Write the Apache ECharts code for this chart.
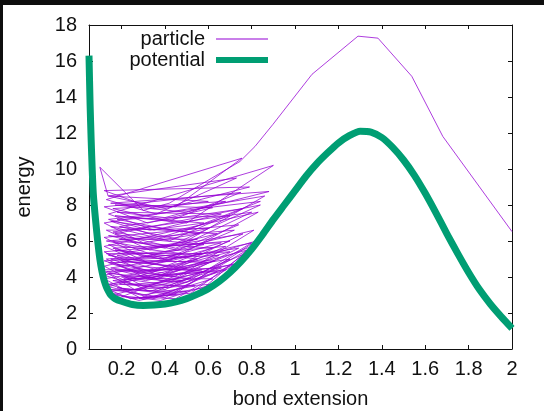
<!DOCTYPE html>
<html><head><meta charset="utf-8">
<script src="https://cdn.jsdelivr.net/npm/echarts@6/dist/echarts.min.js"></script>
<style>
html,body{margin:0;padding:0;background:#0e0e0e;width:544px;height:411px;overflow:hidden}
#c{position:absolute;left:3px;top:5px;width:541px;height:406px;background:#fff}
</style></head><body><div id="c"></div>
<script>
// ---- data ----
const xTicks = [0.2, 0.4, 0.6, 0.8, 1, 1.2, 1.4, 1.6, 1.8, 2];
const yTicks = [0, 2, 4, 6, 8, 10, 12, 14, 16, 18];
const seriesNames = ['particle', 'potential'];

const potentialX = [0.05,0.055,0.06,0.065,0.07,0.08,0.09,0.10,0.11,0.12,0.13,0.14,0.15,0.17,0.20,0.25,0.30,0.35,0.40,0.45,0.50,0.55,0.60,0.65,0.70,0.75,0.80,0.85,0.90,0.95,1.00,1.05,1.10,1.15,1.20,1.25,1.30,1.35,1.40,1.45,1.50,1.55,1.60,1.65,1.70,1.75,1.80,1.85,1.90,1.95,2.00];
const potentialY = [16.3,13.6,11.6,9.9,8.6,7.2,6.0,5.0,4.3,3.8,3.45,3.2,3.0,2.8,2.65,2.47,2.42,2.44,2.5,2.62,2.8,3.05,3.35,3.75,4.25,4.85,5.55,6.35,7.2,8.0,8.8,9.6,10.3,10.9,11.45,11.85,12.1,12.05,11.75,11.2,10.5,9.65,8.65,7.55,6.4,5.3,4.25,3.3,2.5,1.8,1.15];

// particle trajectory (one polyline)
const particleX = [
0.24,0.52,0.77, 0.28,0.58,0.80, 0.20,0.45,0.74, 0.16,0.38,0.62, 0.13,0.28,0.50, 0.15,0.40,0.78,
0.12,0.24,0.45, 0.18,0.45,0.82, 0.13,0.35,0.72, 0.14,0.30,0.54, 0.19,0.42,0.68, 0.16,0.40,0.70,
0.12,0.30,0.62, 0.21,0.44,0.64, 0.20,0.50,0.80, 0.12,0.25,0.48, 0.14,0.33,0.66, 0.13,0.31,0.57,
0.11,0.26,0.52, 0.17,0.42,0.74, 0.15,0.46,0.81, 0.12,0.30,0.58, 0.18,0.40,0.63, 0.14,0.36,0.65,
0.12,0.28,0.50, 0.20,0.45,0.70, 0.13,0.32,0.60, 0.15,0.38,0.68, 0.18,0.44,0.76, 0.14,0.33,0.58,
0.13,0.36,0.70, 0.12,0.30,0.55, 0.17,0.38,0.66, 0.16,0.42,0.83, 0.12,0.26,0.48, 0.14,0.34,0.62,
0.16,0.40,0.72, 0.13,0.32,0.55, 0.19,0.46,0.74, 0.12,0.30,0.58, 0.14,0.40,0.84, 0.17,0.45,0.80,
0.16,0.36,0.60, 0.13,0.33,0.64, 0.15,0.42,0.76, 0.19,0.50,0.86, 0.12,0.30,0.56, 0.15,0.38,0.70,
0.18,0.48,0.84, 0.14,0.33,0.58, 0.17,0.50,0.90, 0.14,0.35,0.66, 0.18,0.40,0.68, 0.16,0.42,0.75,
0.12,0.32,0.62, 0.17,0.50,0.88, 0.15,0.45,0.755, 0.13,0.36,0.73, 0.14,0.40,0.79, 0.12,0.35,0.60,
0.138,0.10,0.30, 0.42,0.746,0.815,0.898,1.078,1.29,1.382,1.538,1.681,2.0];
const particleY = [
2.8,3.1,5.3, 2.8,3.4,5.7, 2.9,2.8,4.8, 3.0,2.7,3.6, 3.2,2.7,3.2, 3.3,2.85,5.5,
3.4,2.8,3.0, 3.4,3.1,6.0, 3.5,2.8,4.7, 3.6,3.0,3.5, 3.6,3.4,4.4, 3.8,3.3,5.0,
3.9,2.75,3.9, 3.9,3.5,4.3, 4.0,3.7,5.9, 4.1,3.6,3.8, 4.2,3.2,4.5, 4.3,3.8,4.4,
4.4,3.3,3.9, 4.4,3.7,5.6, 4.5,4.0,6.6, 4.6,3.5,4.3, 4.7,4.2,4.9, 4.8,3.9,5.2,
4.9,4.3,4.5, 4.9,4.6,5.4, 5.0,3.9,4.8, 5.0,4.1,5.7, 5.2,4.5,6.4, 5.2,4.8,5.3,
5.3,4.4,6.0, 5.4,4.3,5.0, 5.5,5.0,5.9, 5.6,4.9,7.6, 5.7,5.0,5.3, 5.8,4.7,5.6,
6.0,5.0,6.6, 6.0,5.6,6.1, 6.1,5.5,6.9, 6.2,5.1,5.8, 6.3,5.6,8.0, 6.4,5.6,7.6,
6.5,6.1,6.7, 6.6,5.5,6.4, 6.8,6.0,7.8, 6.8,6.0,8.5, 7.0,5.9,6.4, 7.1,6.2,7.4,
7.2,6.5,8.2, 7.2,6.6,7.0, 7.4,7.0,10.2, 7.5,6.6,7.5, 7.6,7.3,8.2, 7.8,7.1,8.7,
7.9,7.0,7.85, 8.0,7.6,8.75, 8.1,7.9,10.6, 8.3,7.5,9.5, 8.5,7.8,9.0, 8.8,7.8,8.2,
8.5,10.1,7.7, 8.1,10.42,11.25,12.48,15.26,17.38,17.27,15.15,11.81,6.52];

// ---- chart ----
const FONT = "'Liberation Sans', Arial, sans-serif";
const chart = echarts.init(document.getElementById('c'), null, {renderer: 'canvas'});
const axisCommon = {
  axisLine: {show: true, onZero: false, lineStyle: {color: '#111', width: 1}},
  splitLine: {show: false}
};
const option = {
  animation: false,
  backgroundColor: '#fff',
  grid: {left: 86, top: 20, right: 32, bottom: 62, containLabel: false, outerBoundsMode: 'none'},
  legend: {
    data: [
      {name: seriesNames[0], icon: 'path://M0,0H52V1H0Z'},
      {name: seriesNames[1], icon: 'path://M0,0H52V6H0Z'}
    ],
    orient: 'vertical', align: 'right', right: 271, top: 19,
    itemWidth: 52, itemHeight: 6, itemGap: 1,
    textStyle: {fontSize: 20, color: '#111', fontFamily: FONT, padding: [0, 6, 0, 0]}
  },
  xAxis: [
    Object.assign({}, axisCommon, {
      type: 'value', min: 0.05, max: 2, position: 'bottom',
      axisTick: {show: true, inside: true, length: 4, customValues: xTicks, lineStyle: {color: '#111'}},
      axisLabel: {customValues: xTicks, fontSize: 20, color: '#111', margin: 10, fontFamily: FONT},
      name: 'bond extension', nameLocation: 'middle', nameGap: 40,
      nameTextStyle: {fontSize: 20, color: '#111', fontFamily: FONT}
    }),
    Object.assign({}, axisCommon, {
      type: 'value', min: 0.05, max: 2, position: 'top',
      axisTick: {show: true, inside: true, length: 4, customValues: xTicks, lineStyle: {color: '#111'}},
      axisLabel: {show: false}
    })
  ],
  yAxis: [
    Object.assign({}, axisCommon, {
      type: 'value', min: 0, max: 18, interval: 2, position: 'left',
      axisTick: {show: true, inside: true, length: 4, customValues: yTicks, lineStyle: {color: '#111'}},
      axisLabel: {customValues: yTicks, fontSize: 20, color: '#111', margin: 12, fontFamily: FONT},
      name: 'energy', nameLocation: 'middle', nameGap: 55, nameRotate: 90,
      nameTextStyle: {fontSize: 20, color: '#111', fontFamily: FONT}
    }),
    Object.assign({}, axisCommon, {
      type: 'value', min: 0, max: 18, interval: 2, position: 'right',
      axisTick: {show: true, inside: true, length: 4, customValues: yTicks, lineStyle: {color: '#111'}},
      axisLabel: {show: false}
    })
  ],
  series: [
    {
      name: seriesNames[0], type: 'line', xAxisIndex: 0, yAxisIndex: 0,
      data: particleX.map((x, i) => [x, particleY[i]]),
      symbol: 'none', z: 2,
      lineStyle: {color: '#9400d3', width: 0.9, opacity: 0.85},
      itemStyle: {color: '#9400d3'}
    },
    {
      name: seriesNames[1], type: 'line', xAxisIndex: 0, yAxisIndex: 0,
      data: potentialX.map((x, i) => [x, potentialY[i]]),
      symbol: 'none', z: 3, smooth: 0.2,
      lineStyle: {color: '#009e73', width: 7, join: 'round'},
      itemStyle: {color: '#009e73'}
    }
  ]
};
chart.setOption(option);
</script></body></html>
